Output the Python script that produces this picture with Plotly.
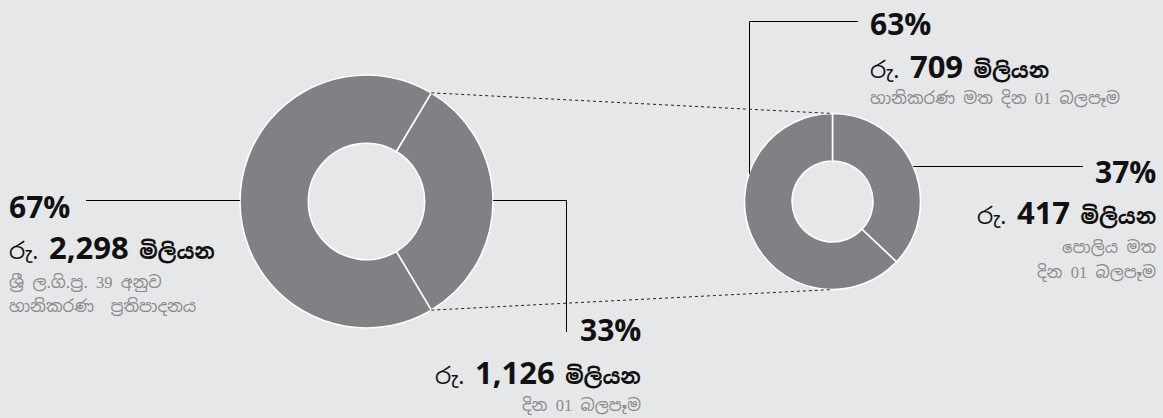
import math
import re
import plotly.graph_objects as go

# ---- data -------------------------------------------------------------
# Total impairment provision split (Rs. million)
main_labels = ["දින 01 බලපෑම", "ශ්‍රී ල.ගි.ප්‍ර. 39 අනුව හානිකරණ ප්‍රතිපාදනය"]
main_values = [1126, 2298]

# Breakdown of the day-1 impact (Rs. million)
detail_labels = ["පොලිය මත දින 01 බලපෑම", "හානිකරණ මත දින 01 බලපෑම"]
detail_values = [417, 709]

# ---- canvas / styling ---------------------------------------------------
W, H = 1163, 418
BG = "#e6e7e9"
RING = "#808184"
INK = "#111111"
SUB = "#8a8a8c"
LATIN = "Open Sans, Noto Sans Sinhala, Noto Sans, sans-serif"
SINH = "Noto Sans Sinhala, Noto Serif Sinhala, Noto Sans, sans-serif"
SERIF = "Liberation Serif, serif"

# donut geometry in pixels (centre x, centre y, outer radius)
BIG = (366.5, 201.5, 126.5)
SMALL = (832.5, 201.5, 88.0)
HOLE = 0.46


def px(x):
    return x / W


def py(y):
    return 1 - y / H


def domain(g):
    cx, cy, r = g
    return dict(x=[px(cx - r), px(cx + r)], y=[py(cy + r), py(cy - r)])


def rim(g, deg):
    """Point on the outer rim, angle measured clockwise from 12 o'clock."""
    cx, cy, r = g
    a = math.radians(deg)
    return cx + r * math.sin(a), cy - r * math.cos(a)


main_share = main_values[0] / sum(main_values)
main_rot = 90 - main_share * 180  # centre the smaller slice on the right

fig = go.Figure()
fig.add_trace(go.Pie(
    labels=main_labels, values=main_values, hole=HOLE, sort=False,
    direction="clockwise", rotation=main_rot, domain=domain(BIG),
    marker=dict(colors=[RING, RING], line=dict(color="white", width=1.6)),
    textinfo="none", hoverinfo="label+value+percent", showlegend=False,
))
fig.add_trace(go.Pie(
    labels=detail_labels, values=detail_values, hole=HOLE, sort=False,
    direction="clockwise", rotation=0, domain=domain(SMALL),
    marker=dict(colors=[RING, RING], line=dict(color="white", width=1.6)),
    textinfo="none", hoverinfo="label+value+percent", showlegend=False,
))

shapes = []


def seg(pts, dash="solid", color="#000000"):
    path = "M " + " L ".join(f"{px(x)},{py(y)}" for x, y in pts)
    shapes.append(dict(type="path", path=path, xref="paper", yref="paper",
                       line=dict(color=color, width=1, dash=dash)))


# connector lines from the small slice to the detail donut
seg([rim(BIG, main_rot), rim(SMALL, 0)], dash="3px,3px", color="#222222")
seg([rim(BIG, main_rot + main_share * 360), rim(SMALL, 180)], dash="3px,3px", color="#222222")

# leader lines
seg([(86, 200.5), (BIG[0] - BIG[2], 200.5)])
seg([(BIG[0] + BIG[2], 200.5), (566.5, 200.5), (566.5, 332)])
seg([(SMALL[0] - math.sqrt(SMALL[2] ** 2 - 28 ** 2), 173.5), (749.5, 173.5),
     (749.5, 21.5), (858, 21.5)])
seg([(SMALL[0] + math.sqrt(SMALL[2] ** 2 - 35 ** 2), 166.5), (1083, 166.5)])

annotations = []


def note(x, y, text, anchor, size, color=INK, family=LATIN):
    annotations.append(dict(
        x=px(x), y=py(y), xref="paper", yref="paper", text=text,
        xanchor=anchor, yanchor="middle", showarrow=False,
        font=dict(size=size, color=color, family=family),
    ))


def sub(x, y, text, anchor):
    # Sinhala in the sans face, digits set in a serif face
    body = re.sub(r"(\d+)", lambda m: f"<span style='font-family:{SERIF}'>{m.group(1)}</span>", text)
    note(x, y, body, anchor, 16.5, SUB, SINH)


def pct(v, total):
    return f"<b>{round(100 * v / total)}%</b>"


def amount(v):
    return (f"<span style='font-size:23px'>රු.</span> "
            f"<b><span style='font-size:31px;font-family:{LATIN}'>{v:,}</span></b>"
            f" <b>මිලියන</b>")


tot_main = sum(main_values)
tot_detail = sum(detail_values)

# large share (left)
note(7, 206, pct(main_values[1], tot_main), "left", 30)
note(7, 247, amount(main_values[1]), "left", 21, family=SINH)
sub(7, 282, "ශ්‍රී ල.ගි.ප්‍ර. 39 අනුව", "left")
sub(7, 306, "හානිකරණ  ප්‍රතිපාදනය", "left")

# day-1 share (bottom)
note(643, 329, pct(main_values[0], tot_main), "right", 30)
note(643, 372, amount(main_values[0]), "right", 21, family=SINH)
sub(643, 405, "දින 01 බලපෑම", "right")

# impairment day-1 (top right)
note(868, 23, pct(detail_values[1], tot_detail), "left", 30)
note(868, 66, amount(detail_values[1]), "left", 21, family=SINH)
sub(868, 98, "හානිකරණ මත දින 01 බලපෑම", "left")

# interest day-1 (right)
note(1158, 171, pct(detail_values[0], tot_detail), "right", 30)
note(1158, 212, amount(detail_values[0]), "right", 21, family=SINH)
sub(1158, 247, "පොලිය මත", "right")
sub(1158, 272, "දින 01 බලපෑම", "right")

fig.update_layout(
    width=W, height=H, margin=dict(l=0, r=0, t=0, b=0),
    paper_bgcolor=BG, plot_bgcolor=BG,
    shapes=shapes, annotations=annotations, showlegend=False,
)

fig.write_html("out.html")
